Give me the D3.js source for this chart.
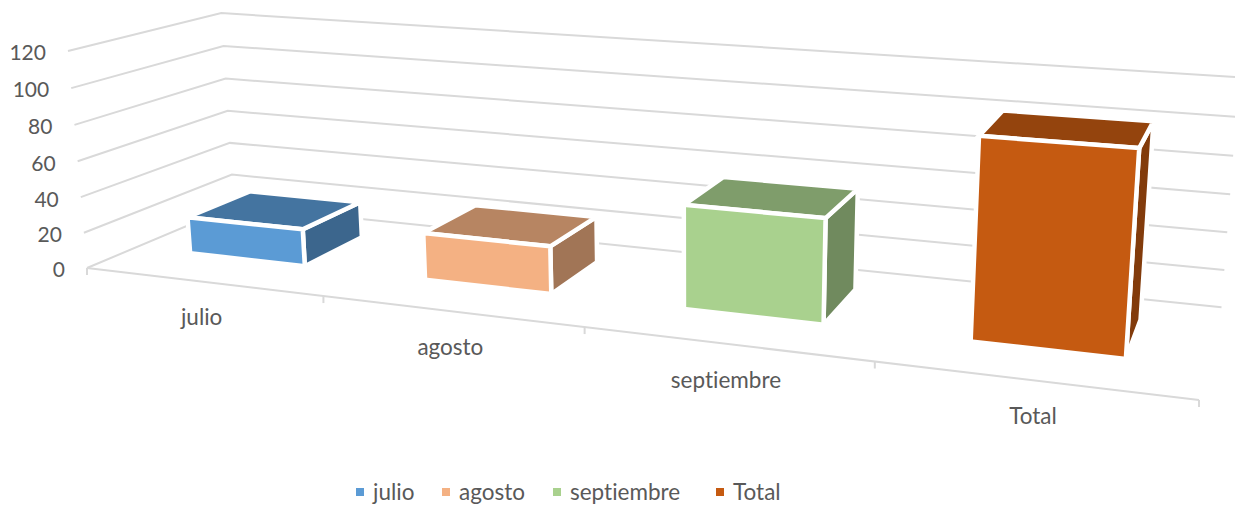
<!DOCTYPE html>
<html>
<head>
<meta charset="utf-8">
<script src="https://cdn.jsdelivr.net/npm/d3@7"></script>
<style>
  html, body { margin: 0; padding: 0; background: #fff; overflow: hidden; }
  text { font-family: Lato, "Open Sans", sans-serif; fill: #595959; font-variant-ligatures: none; }
</style>
</head>
<body>
<div id="chart"></div>
<script>
var categories = ["julio", "agosto", "septiembre", "Total"];
var values = [21, 26, 55, 102];
var valueTicks = [0, 20, 40, 60, 80, 100, 120];

var colors = ["#5B9BD5", "#F4B183", "#A9D18E", "#C55A11"];
var legendX = [356, 442, 553, 716];

var width = 1235,
  height = 505;

// x: 0..1 along the categories, y: 0..1 up the value axis, z: 0..1 into the chart
var color = d3.scaleOrdinal().domain(categories).range(colors);
var xBand = d3.scaleBand().domain(categories).range([-0.002, 1]).paddingInner(0.5).paddingOuter(0.25);
var yValue = d3.scaleLinear().domain([0, 120]).range([0, 1]);
var zDepth = d3.scaleLinear().domain([0, 1]).range([0.31, 0.75]);

// perspective projection of the box, fitted on the corners of the walls
function project(x, y, z) {
  var w = 1 - 0.19 * x - 0.0304 * y + 0.1304 * z;
  return [
    (87 + 884.2 * x - 21.07 * y + 177.5 * z) / w,
    (268 + 56 * x - 218.5 * y - 35.1 * z) / w,
  ];
}

var svg = d3
  .select("#chart")
  .append("svg")
  .attr("width", width)
  .attr("height", height)
  .style("display", "block");

var line = d3.line();
var face = d3.line().curve(d3.curveLinearClosed);

// walls
var grid = svg
  .append("g")
  .attr("fill", "none")
  .attr("stroke", "#D9D9D9")
  .attr("stroke-width", 2);

valueTicks.forEach(function (t) {
  var y = yValue(t);
  grid.append("path").attr("d", line([project(0, y, 0), project(0, y, 1), project(1, y, 1)]));
});

// floor front edge and its ticks
grid.append("path").attr("d", line([project(0, 0, 0), project(1, 0, 0)]));
d3.range(categories.length + 1).forEach(function (i) {
  var p = project(i / categories.length, 0, 0);
  grid.append("path").attr("d", line([p, [p[0], p[1] + 7]]));
});

// value labels
svg
  .append("g")
  .selectAll("text")
  .data(valueTicks)
  .enter()
  .append("text")
  .attr("x", function (d) {
    return project(0, yValue(d), 0)[0] - 22;
  })
  .attr("y", function (d) {
    return project(0, yValue(d), 0)[1] + 2;
  })
  .attr("dy", "0.35em")
  .attr("text-anchor", "end")
  .attr("font-size", 21)
  .text(function (d) {
    return d;
  });

// category labels
svg
  .append("g")
  .selectAll("text")
  .data(categories)
  .enter()
  .append("text")
  .attr("x", function (d) {
    return project(xBand(d) + xBand.bandwidth() / 2, 0, 0)[0] + 1;
  })
  .attr("y", function (d) {
    return project(xBand(d) + xBand.bandwidth() / 2, 0, 0)[1] + 36;
  })
  .attr("dy", "0.35em")
  .attr("text-anchor", "middle")
  .attr("font-size", 22.5)
  .text(function (d) {
    return d;
  });

// columns
var bars = svg
  .append("g")
  .selectAll("g")
  .data(categories)
  .enter()
  .append("g")
  .attr("stroke", "#fff")
  .attr("stroke-width", 4.5)
  .attr("stroke-linejoin", "miter");

function shade(c, k) {
  var rgb = d3.rgb(c);
  return d3.rgb(rgb.r * k, rgb.g * k, rgb.b * k).formatHex();
}

bars.each(function (d, i) {
  var g = d3.select(this);
  var x0 = xBand(d),
    x1 = x0 + xBand.bandwidth(),
    y1 = yValue(values[i]),
    z0 = zDepth(0),
    z1 = zDepth(1);

  // side, top, then front
  g.append("path")
    .attr("fill", shade(color(d), 0.66))
    .attr("d", face([project(x1, 0, z0), project(x1, 0, z1), project(x1, y1, z1), project(x1, y1, z0)]));
  g.append("path")
    .attr("fill", shade(color(d), 0.75))
    .attr("d", face([project(x0, y1, z0), project(x1, y1, z0), project(x1, y1, z1), project(x0, y1, z1)]));
  g.append("path")
    .attr("fill", color(d))
    .attr("d", face([project(x0, 0, z0), project(x1, 0, z0), project(x1, y1, z0), project(x0, y1, z0)]));
});

// legend
var legend = svg
  .append("g")
  .selectAll("g")
  .data(categories)
  .enter()
  .append("g")
  .attr("transform", function (d, i) {
    return "translate(" + legendX[i] + ",492)";
  });

legend
  .append("rect")
  .attr("y", -4)
  .attr("width", 8)
  .attr("height", 8)
  .attr("fill", function (d) {
    return color(d);
  });

legend
  .append("text")
  .attr("x", 17)
  .attr("dy", "0.35em")
  .attr("font-size", 22.5)
  .text(function (d) {
    return d;
  });
</script>
</body>
</html>
